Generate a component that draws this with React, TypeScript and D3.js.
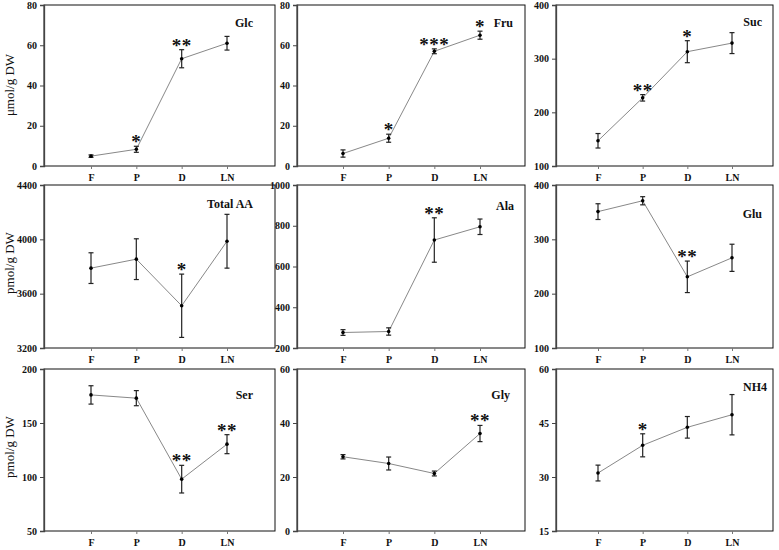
import React, { useEffect, useRef } from 'react';
import * as d3 from 'd3';

// sampling stages on the x axis
const stages = ['F', 'P', 'D', 'LN'];

// means, error bars (+/-) and significance marks
const glcMean = [4.9, 8.3, 53.3, 61.0];
const glcErr = [0.6, 1.5, 4.5, 3.4];
const glcStars = ['', '*', '**', ''];
const glcTicks = [0, 20, 40, 60, 80];

const fruMean = [6.2, 13.8, 57.0, 65.0];
const fruErr = [1.8, 2.0, 1.2, 2.0];
const fruStars = ['', '*', '***', '*'];
const fruTicks = [0, 20, 40, 60, 80];

const sucMean = [147, 227, 313, 329];
const sucErr = [13.5, 6, 20.5, 19.5];
const sucStars = ['', '**', '*', ''];
const sucTicks = [100, 200, 300, 400];

const aaMean = [3788, 3854, 3511, 3986];
const aaErr = [113, 150, 233, 198];
const aaStars = ['', '', '*', ''];
const aaTicks = [3200, 3600, 4000, 4400];

const alaMean = [276, 281, 730, 795];
const alaErr = [14, 18, 109, 38];
const alaStars = ['', '', '**', ''];
const alaTicks = [200, 400, 600, 800, 1000];

const gluMean = [351, 371, 231, 266];
const gluErr = [14.5, 7.5, 29, 25];
const gluStars = ['', '', '**', ''];
const gluTicks = [100, 200, 300, 400];

const serMean = [176, 173, 98, 130.4];
const serErr = [8.5, 7, 12.8, 8.8];
const serStars = ['', '', '**', '**'];
const serTicks = [50, 100, 150, 200];

const glyMean = [27.5, 25.0, 21.3, 36.1];
const glyErr = [0.8, 2.4, 0.9, 3.0];
const glyStars = ['', '', '', '**'];
const glyTicks = [0, 20, 40, 60];

const nh4Mean = [31.1, 38.8, 43.8, 47.3];
const nh4Err = [2.2, 3.2, 3.0, 5.6];
const nh4Stars = ['', '*', '', ''];
const nh4Ticks = [15, 30, 45, 60];

const rowLabels = ['\u03bcmol/g DW', 'pmol/g DW', 'pmol/g DW'];

const panels = [
  { title: 'Glc', mean: glcMean, err: glcErr, stars: glcStars, ticks: glcTicks },
  { title: 'Fru', mean: fruMean, err: fruErr, stars: fruStars, ticks: fruTicks },
  { title: 'Suc', mean: sucMean, err: sucErr, stars: sucStars, ticks: sucTicks },
  { title: 'Total AA', mean: aaMean, err: aaErr, stars: aaStars, ticks: aaTicks },
  { title: 'Ala', mean: alaMean, err: alaErr, stars: alaStars, ticks: alaTicks },
  { title: 'Glu', mean: gluMean, err: gluErr, stars: gluStars, ticks: gluTicks },
  { title: 'Ser', mean: serMean, err: serErr, stars: serStars, ticks: serTicks },
  { title: 'Gly', mean: glyMean, err: glyErr, stars: glyStars, ticks: glyTicks },
  { title: 'NH4', mean: nh4Mean, err: nh4Err, stars: nh4Stars, ticks: nh4Ticks },
];

// layout of the 3x3 grid (pixels)
const cols = [
  { x0: 44, x1: 275, first: 91, last: 227 },
  { x0: 297, x1: 525, first: 343, last: 480 },
  { x0: 556, x1: 773, first: 598, last: 732 },
];
const rows = [
  { y0: 5, y1: 166 },
  { y0: 185, y1: 348 },
  { y0: 369, y1: 531 },
];
// title placement: distance of text end from right frame, baseline below top frame
const titlePos = [
  [22, 22], [12, 22], [11, 21],
  [22, 23], [11, 25], [11, 33],
  [22, 30], [15, 30], [6, 22],
];
// vertical centre of each row's unit label
const labelY = [85, 263, 447];

const FONT = '"Liberation Serif", "Times New Roman", serif';

const App = () => {
  const svgRef = useRef<SVGSVGElement>(null);

  useEffect(() => {
    const svg = d3.select(svgRef.current);
    svg.selectAll('*').remove();

    panels.forEach((p, i) => {
      const c = cols[i % 3];
      const r = rows[Math.floor(i / 3)];
      const g = svg.append('g');

      const x = d3.scalePoint().domain(stages).range([c.first, c.last]);
      const y = d3.scaleLinear()
        .domain([p.ticks[0], p.ticks[p.ticks.length - 1]])
        .range([r.y1, r.y0]);

      // frame
      g.append('rect')
        .attr('x', c.x0).attr('y', r.y0)
        .attr('width', c.x1 - c.x0).attr('height', r.y1 - r.y0)
        .attr('fill', 'none').attr('stroke', '#111').attr('stroke-width', 1);

      // y axis
      const yAxis = d3.axisLeft(y).tickValues(p.ticks).tickFormat(d3.format('d'))
        .tickSize(4).tickPadding(3);
      const ya = g.append('g').attr('transform', `translate(${c.x0},0)`).call(yAxis);
      ya.select('.domain').attr('stroke', '#444').attr('stroke-width', 1.3);
      ya.selectAll('line').attr('stroke', '#444');
      ya.selectAll('text')
        .attr('font-family', FONT).attr('font-size', 10).attr('font-weight', 'bold')
        .attr('fill', '#111');

      // x axis
      const xAxis = d3.axisBottom(x).tickSize(3).tickPadding(5);
      const xa = g.append('g').attr('transform', `translate(0,${r.y1})`).call(xAxis);
      xa.select('.domain').remove();
      xa.selectAll('line').attr('stroke', '#777');
      xa.selectAll('text')
        .attr('font-family', FONT).attr('font-size', 10).attr('font-weight', 'bold')
        .attr('fill', '#111');

      // connecting line
      const line = d3.line<number>()
        .x((_, k) => x(stages[k]) as number)
        .y(d => y(d));
      g.append('path')
        .datum(p.mean)
        .attr('d', line)
        .attr('fill', 'none').attr('stroke', '#888').attr('stroke-width', 1);

      // error bars
      const eb = g.selectAll('.eb').data(p.mean).enter().append('g');
      eb.append('line')
        .attr('x1', (_, k) => x(stages[k]) as number)
        .attr('x2', (_, k) => x(stages[k]) as number)
        .attr('y1', (d, k) => y(d + p.err[k]))
        .attr('y2', (d, k) => y(d - p.err[k]))
        .attr('stroke', '#333').attr('stroke-width', 1.3);
      [1, -1].forEach(s => {
        eb.append('line')
          .attr('x1', (_, k) => (x(stages[k]) as number) - 2.5)
          .attr('x2', (_, k) => (x(stages[k]) as number) + 2.5)
          .attr('y1', (d, k) => y(d + s * p.err[k]))
          .attr('y2', (d, k) => y(d + s * p.err[k]))
          .attr('stroke', '#222').attr('stroke-width', 1.2);
      });

      // points
      g.selectAll('.pt').data(p.mean).enter().append('circle')
        .attr('cx', (_, k) => x(stages[k]) as number)
        .attr('cy', d => y(d))
        .attr('r', 1.8)
        .attr('fill', '#000');

      // significance
      g.selectAll('.st').data(p.mean).enter().append('text')
        .attr('x', (_, k) => x(stages[k]) as number)
        .attr('y', (d, k) => y(d + p.err[k]) + 2)
        .attr('text-anchor', 'middle')
        .attr('font-family', FONT).attr('font-size', 19).attr('font-weight', 'bold')
        .attr('letter-spacing', 0.5)
        .attr('fill', '#111')
        .text((_, k) => p.stars[k]);

      // title
      g.append('text')
        .attr('x', c.x1 - titlePos[i][0])
        .attr('y', r.y0 + titlePos[i][1])
        .attr('text-anchor', 'end')
        .attr('font-family', FONT).attr('font-size', 12).attr('font-weight', 'bold')
        .attr('fill', '#111')
        .text(p.title);
    });

    // row y labels
    rowLabels.forEach((lab, k) => {
      svg.append('text')
        .attr('transform', `translate(14,${labelY[k]}) rotate(-90)`)
        .attr('text-anchor', 'middle')
        .attr('font-family', FONT).attr('font-size', 13)
        .attr('fill', '#111')
        .text(lab);
    });
  }, []);

  return (
    <svg
      ref={svgRef}
      width={779}
      height={550}
      style={{ position: 'absolute', left: 0, top: 0, background: '#fff' }}
    ></svg>
  );
};

export default App;
